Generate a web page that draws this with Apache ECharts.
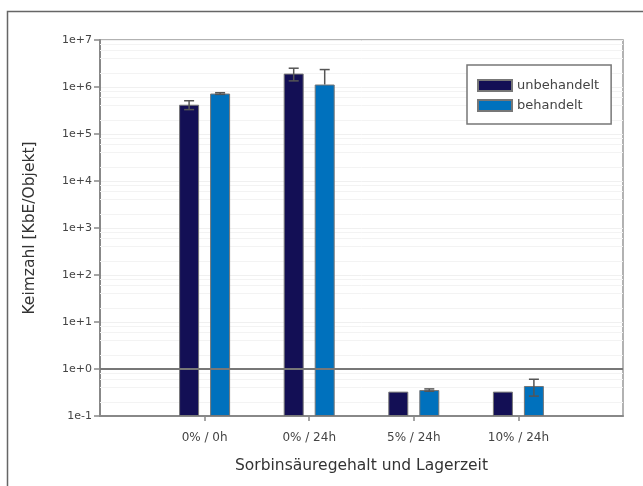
<!DOCTYPE html>
<html>
<head>
<meta charset="utf-8">
<script src="https://cdn.jsdelivr.net/npm/echarts@6/dist/echarts.min.js"></script>
<style>
  html, body { margin: 0; padding: 0; background: #fff; }
  #chart { width: 643px; height: 486px; }
</style>
</head>
<body>
<div id="chart"></div>
<script>
// Keimzahl je Objekt nach Sorbinsäuregehalt und Lagerzeit (Mittelwert ± SD)
const categories = ['0% / 0h', '0% / 24h', '5% / 24h', '10% / 24h'];
const seriesNames = ['unbehandelt', 'behandelt'];
const unbehandelt = [4.2e5, 1.93e6, 0.33, 0.33];
const unbehandeltSd = [0.9e5, 0.58e6, 0, 0];
const behandelt = [7.26e5, 1.13e6, 0.357, 0.435];
const behandeltSd = [0.3e5, 1.22e6, 0.02, 0.17];
const yTickLabels = ['1e-1', '1e+0', '1e+1', '1e+2', '1e+3', '1e+4', '1e+5', '1e+6', '1e+7'];
const referenceLevel = 1;

const FONT = 'DejaVu Sans';
const BAR_W = 20;
const BAR_GAP = 11;
const barColors = ['#130f55', '#0071bd'];

// category axis with an empty slot on each side so the groups sit on ticks
const axisCats = [''].concat(categories, ['']);
const pad = arr => ['-'].concat(arr, ['-']);

// light minor grid at 2,4,6,8 per decade
const minorLevels = [];
for (let e = -1; e < 7; e++) {
  [2, 4, 6, 8].forEach(m => minorLevels.push(m * Math.pow(10, e)));
}

function errorSeries(idx, means, sds) {
  const offset = (idx === 0 ? -1 : 1) * (BAR_W + BAR_GAP) / 2;
  return {
    type: 'custom',
    name: seriesNames[idx] + ' SD',
    z: 5,
    silent: true,
    encode: { x: 0, y: 1 },
    data: means.map((m, i) => [i + 1, m, sds[i]]),
    renderItem(params, api) {
      const x = api.value(0), mean = api.value(1), sd = api.value(2);
      if (!sd) return;
      const hi = api.coord([x, mean + sd]);
      const hasLow = mean - sd > 0;
      const lo = api.coord([x, hasLow ? mean - sd : mean]);
      const cx = hi[0] + offset;
      const style = { stroke: '#555', lineWidth: 1.5 };
      const children = [
        { type: 'line', shape: { x1: cx, y1: lo[1], x2: cx, y2: hi[1] }, style },
        { type: 'line', shape: { x1: cx - 5, y1: hi[1], x2: cx + 5, y2: hi[1] }, style }
      ];
      if (hasLow) {
        children.push({ type: 'line', shape: { x1: cx - 5, y1: lo[1], x2: cx + 5, y2: lo[1] }, style });
      }
      return { type: 'group', children };
    }
  };
}

const chart = echarts.init(document.getElementById('chart'), null, { renderer: 'canvas' });
chart.setOption({
  animation: false,
  backgroundColor: '#fff',
  textStyle: { fontFamily: FONT },
  graphic: [{
    type: 'rect',
    left: 5, top: 9, z: -10,
    shape: { width: 660, height: 500 },
    style: { fill: 'none', stroke: '#666', lineWidth: 1.5 }
  }],
  grid: {
    left: 100, top: 40, width: 523, height: 376,
    show: true, backgroundColor: '#fff', borderColor: '#999', borderWidth: 1.5
  },
  legend: {
    data: seriesNames,
    orient: 'vertical',
    left: 467, top: 65,
    padding: [14, 12, 12, 10],
    itemWidth: 34, itemHeight: 11, itemGap: 7,
    borderColor: '#777', borderWidth: 1.5, backgroundColor: '#fff',
    icon: 'rect',
    z: 10,
    textStyle: { fontFamily: FONT, fontSize: 13, color: '#444' }
  },
  xAxis: {
    type: 'category',
    data: axisCats,
    boundaryGap: false,
    name: 'Sorbinsäuregehalt und Lagerzeit',
    nameLocation: 'middle',
    nameGap: 42,
    nameTextStyle: { fontFamily: FONT, fontSize: 15.5, color: '#333' },
    axisLine: { lineStyle: { color: '#888', width: 2 } },
    axisTick: { length: 5, lineStyle: { color: '#888', width: 1.5 }, interval: i => i > 0 && i < axisCats.length - 1 },
    axisLabel: { interval: 0, margin: 16, fontFamily: FONT, fontSize: 12, color: '#444' },
    splitLine: { show: false }
  },
  yAxis: {
    type: 'log',
    logBase: 10,
    min: 0.1, max: 1e7,
    splitNumber: 8,
    startValue: 0.1,
    name: 'Keimzahl [KbE/Objekt]',
    nameLocation: 'middle',
    nameGap: 62,
    nameTextStyle: { fontFamily: FONT, fontSize: 15.5, color: '#333' },
    axisLine: { show: true, lineStyle: { color: '#888', width: 2 } },
    axisTick: { show: true, length: 6, lineStyle: { color: '#888', width: 1.5 } },
    axisLabel: {
      margin: 8, fontFamily: FONT, fontSize: 11, color: '#444',
      formatter: v => yTickLabels[Math.round(Math.log10(v)) + 1]
    },
    splitLine: { show: true, lineStyle: { color: '#f0f0f0', width: 1 } }
  },
  series: [
    {
      type: 'line', name: 'grid', data: [], z: 1, silent: true,
      markLine: {
        z: 1,
        silent: true, symbol: ['none', 'none'], label: { show: false },
        lineStyle: { color: '#f3f3f3', width: 1, type: 'solid' },
        data: minorLevels.map(v => ({ yAxis: v }))
      }
    },
    {
      type: 'bar', name: seriesNames[0], data: pad(unbehandelt),
      barWidth: BAR_W, barGap: (BAR_GAP / BAR_W * 100) + '%', z: 3,
      itemStyle: { color: barColors[0], borderColor: '#777', borderWidth: 1 }
    },
    {
      type: 'bar', name: seriesNames[1], data: pad(behandelt),
      barWidth: BAR_W, z: 3,
      itemStyle: { color: barColors[1], borderColor: '#777', borderWidth: 1 },
      markLine: {
        z: 5,
        silent: true, symbol: ['none', 'none'], label: { show: false },
        lineStyle: { color: '#777', width: 2, type: 'solid' },
        data: [{ yAxis: referenceLevel }]
      }
    },
    errorSeries(0, unbehandelt, unbehandeltSd),
    errorSeries(1, behandelt, behandeltSd)
  ]
});
</script>
</body>
</html>
